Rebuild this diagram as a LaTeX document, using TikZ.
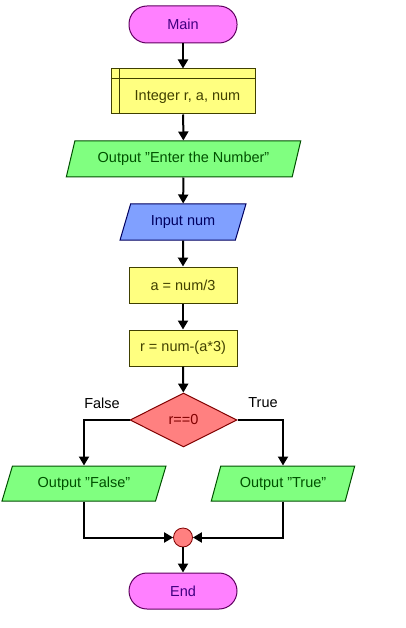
\documentclass[tikz,border=0pt]{standalone}
\usepackage{fontspec}
\setmainfont{Liberation Sans}
\usetikzlibrary{shapes.geometric,arrows.meta}
\definecolor{magF}{RGB}{255,128,255}
\definecolor{magD}{RGB}{96,0,96}
\definecolor{magT}{RGB}{64,0,128}
\definecolor{yelF}{RGB}{255,255,128}
\definecolor{yelD}{RGB}{64,64,0}
\definecolor{grnF}{RGB}{128,255,128}
\definecolor{grnD}{RGB}{0,80,0}
\definecolor{bluF}{RGB}{128,160,255}
\definecolor{bluD}{RGB}{0,0,96}
\definecolor{redF}{RGB}{255,128,128}
\definecolor{redD}{RGB}{128,0,0}
\tikzset{
  base/.style={font=\fontsize{14.5}{17}\selectfont, line width=1pt, inner sep=0pt},
  term/.style={base, draw=magD, fill=magF, text=magT, rectangle, rounded corners=18pt, minimum width=108pt, minimum height=37pt},
  proc/.style={base, draw=yelD, fill=yelF, text=yelD, rectangle, minimum width=108pt, minimum height=36pt},
  io/.style={base, trapezium, trapezium left angle=63.4, trapezium right angle=116.6, trapezium stretches=true, minimum height=36pt},
  outbox/.style={io, draw=grnD, fill=grnF, text=grnD},
  inbox/.style={io, draw=bluD, fill=bluF, text=bluD},
  decis/.style={base, diamond, draw=redD, fill=redF, text=redD, minimum width=107pt, minimum height=54pt},
  junc/.style={circle, draw=redD, fill=redF, line width=0.8pt, minimum size=19pt, inner sep=0pt},
  lbl/.style={font=\fontsize{14.5}{17}\selectfont, text=black},
  arr/.style={line width=2pt, -{Triangle[length=9pt,width=10pt]}},
  ln/.style={line width=2pt}
}
\begin{document}
\begin{tikzpicture}[x=1pt,y=-1pt]
\useasboundingbox (0,0) rectangle (405,628);
\node[term] (main) at (183,24.5) {Main};
\node[proc, minimum width=144pt, minimum height=45pt] (decl) at (183,91.5) {\hspace*{9pt}\raisebox{-6pt}[\height][\depth]{Integer r, a, num}};
\draw[yelD, line width=1pt] ([xshift=9pt]decl.north west) -- ([xshift=9pt]decl.south west);
\draw[yelD, line width=1pt] ([yshift=-10pt]decl.north west) -- ([yshift=-10pt]decl.north east);
\node[outbox, minimum width=235pt] (out1) at (183.5,159) {Output "Enter the Number"};
\node[inbox, minimum width=126pt] (inp) at (183,222) {Input num};
\node[proc] (adiv) at (183,285) {a = num/3};
\node[proc] (rmod) at (183,348) {r = num-(a*3)};
\node[decis] (dec) at (183.5,420) {r==0};
\node[outbox, minimum width=164pt, minimum height=35pt] (outF) at (84,483.5) {Output "False"};
\node[outbox, minimum width=144pt, minimum height=35pt] (outT) at (283,483.5) {Output "True"};
\node[junc] (jn) at (183,537.5) {};
\node[term, minimum height=36pt] (fin) at (183,591) {End};
\node[lbl] (lf) at (102,403) {False};
\node[lbl] (lt) at (263,403) {True};
\draw[arr] (main) -- (decl);
\draw[arr] (decl) -- (out1);
\draw[arr] (out1) -- (inp);
\draw[arr] (inp) -- (adiv);
\draw[arr] (adiv) -- (rmod);
\draw[arr] (rmod) -- (dec);
\draw[arr] (dec.west) -| (outF.north);
\draw[arr] (dec.east) -| (outT.north);
\draw[arr] (outF.south) |- (jn.west);
\draw[arr] (outT.south) |- (jn.east);
\draw[arr] (jn) -- (fin);
\end{tikzpicture}
\end{document}
